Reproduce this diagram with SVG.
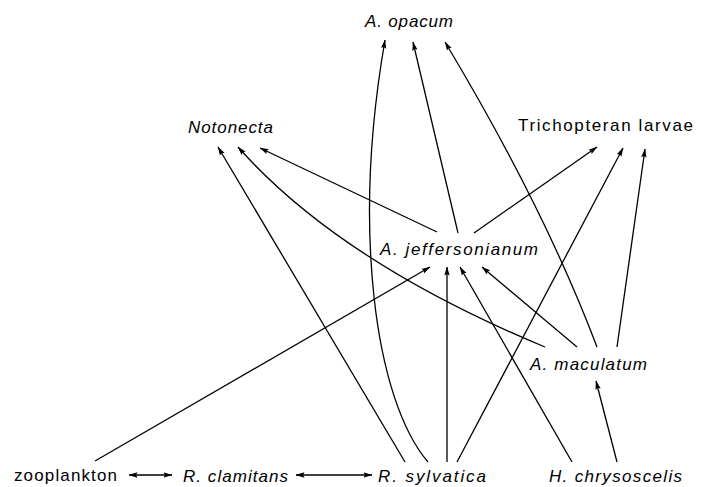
<svg xmlns="http://www.w3.org/2000/svg" width="709" height="487" viewBox="0 0 709 487">
<defs>
<marker id="ah" markerWidth="9" markerHeight="6" refX="8.5" refY="3" orient="auto" markerUnits="userSpaceOnUse">
<path d="M0,0.3 L9,3 L0,5.7 L1.5,3 z" fill="#000"/>
</marker>
<marker id="ahs" markerWidth="9" markerHeight="6" refX="0.5" refY="3" orient="auto" markerUnits="userSpaceOnUse">
<path d="M9,0.3 L0,3 L9,5.7 L7.5,3 z" fill="#000"/>
</marker>
</defs>
<style>
text{font-family:"Liberation Sans",Arial,sans-serif;font-size:17px;fill:#000}
.i{font-style:italic}
.e{fill:none;stroke:#000;stroke-width:1.3;marker-end:url(#ah)}
.b{marker-start:url(#ahs)}
</style>
<rect width="709" height="487" fill="#fff"/>
<g id="connectors">
<path class="e" d="M428,462 C375,400 352,230 385,40"/>
<path class="e" d="M447,462 L447,267"/>
<path class="e" d="M457,462 L623,148"/>
<path class="e" d="M405,462 L218,147"/>
<path class="e" d="M95,461 L430,267"/>
<path class="e" d="M572,462 L460,267"/>
<path class="e" d="M617,462 L596,381"/>
<path class="e" d="M577,347 L482,267"/>
<path class="e" d="M545,347 Q340,262 238,147"/>
<path class="e" d="M597,347 Q544,207 445,42"/>
<path class="e" d="M617,347 L645,149"/>
<path class="e" d="M458,233 L413,42"/>
<path class="e" d="M437,232 L260,148"/>
<path class="e" d="M474,233 L597,147"/>
<path class="e b" d="M129,475 L172,475"/>
<path class="e b" d="M296,475 L372,475"/>
</g>
<g id="n-opacum"><text class="i" x="365" y="27" textLength="88" lengthAdjust="spacing">A. opacum</text></g>
<g id="n-notonecta"><text class="i" x="188" y="133" textLength="85" lengthAdjust="spacing">Notonecta</text></g>
<g id="n-trichoptera"><text x="518" y="131" textLength="175" lengthAdjust="spacing">Trichopteran larvae</text></g>
<g id="n-jeffersonianum"><text class="i" x="380" y="255" textLength="158" lengthAdjust="spacing">A. jeffersonianum</text></g>
<g id="n-maculatum"><text class="i" x="530" y="370" textLength="117" lengthAdjust="spacing">A. maculatum</text></g>
<g id="n-zooplankton"><text x="14" y="481" textLength="103" lengthAdjust="spacing">zooplankton</text></g>
<g id="n-clamitans"><text class="i" x="183" y="482" textLength="105" lengthAdjust="spacing">R. clamitans</text></g>
<g id="n-sylvatica"><text class="i" x="378" y="482" textLength="108" lengthAdjust="spacing">R. sylvatica</text></g>
<g id="n-chrysoscelis"><text class="i" x="549" y="482" textLength="133" lengthAdjust="spacing">H. chrysoscelis</text></g>
</svg>
